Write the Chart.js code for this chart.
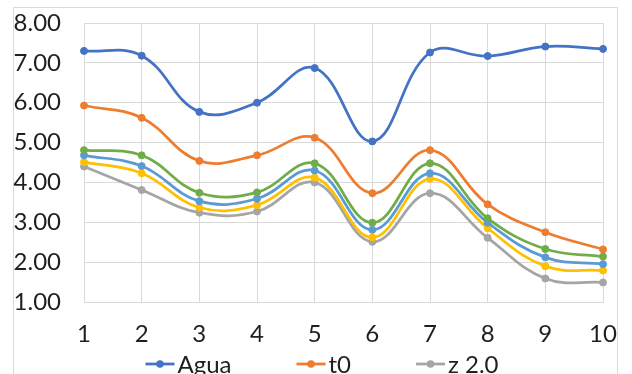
<!DOCTYPE html>
<html>
<head>
<meta charset="utf-8">
<script src="https://cdn.jsdelivr.net/npm/chart.js@4"></script>
<style>
  html, body { margin: 0; padding: 0; background: #fff; overflow: hidden; }
  #wrap { position: relative; width: 632px; height: 374px; }
</style>
</head>
<body>
<div id="wrap"><canvas id="chart"></canvas></div>
<script>
// Categories (x axis)
const categories = ['1', '2', '3', '4', '5', '6', '7', '8', '9', '10'];

// Series values
const agua   = [7.30, 7.18, 5.77, 6.00, 6.87, 5.03, 7.26, 7.17, 7.41, 7.35];
const t0     = [5.93, 5.62, 4.54, 4.68, 5.12, 3.73, 4.81, 3.45, 2.75, 2.32];
const z20    = [4.40, 3.81, 3.24, 3.27, 4.00, 2.51, 3.73, 2.61, 1.59, 1.49];
const serie4 = [4.51, 4.23, 3.37, 3.43, 4.12, 2.62, 4.09, 2.85, 1.90, 1.79];
const serie5 = [4.68, 4.41, 3.53, 3.59, 4.30, 2.81, 4.23, 2.99, 2.12, 1.95];
const serie6 = [4.81, 4.68, 3.74, 3.75, 4.48, 2.99, 4.48, 3.10, 2.33, 2.14];

// Series names
const seriesNames = ['Agua', 't0', 'z 2.0', 'Serie 4', 'Serie 5', 'Serie 6'];

// Y axis range
const yMin = 1;
const yMax = 8;
const yStep = 1;

const palette = ['#4472C4', '#ED7D31', '#A5A5A5', '#FFC000', '#5B9BD5', '#70AD47'];
const seriesValues = [agua, t0, z20, serie4, serie5, serie6];
const FONT = 'Lato, "Open Sans", "DejaVu Sans", sans-serif';
const TEXT = '#1f1f1f';
const GRID = '#D9D9D9';

const datasets = seriesValues.map((vals, i) => ({
  label: seriesNames[i],
  data: vals,
  borderColor: palette[i],
  backgroundColor: palette[i],
  pointBackgroundColor: palette[i],
  pointBorderColor: palette[i],
  pointRadius: 3.5,
  pointBorderWidth: 1,
  borderWidth: 2.75,
  tension: 0.4,
  fill: false,
  order: seriesValues.length - i
}));

// Outer frame around the chart
const framePlugin = {
  id: 'frame',
  beforeDraw(chart) {
    const ctx = chart.ctx;
    ctx.save();
    ctx.fillStyle = '#fff';
    ctx.fillRect(0, 0, chart.width, chart.height);
    ctx.strokeStyle = GRID;
    ctx.lineWidth = 1;
    ctx.beginPath();
    ctx.moveTo(13.5, chart.height + 2);
    ctx.lineTo(13.5, 7.5);
    ctx.lineTo(617.5, 7.5);
    ctx.lineTo(617.5, chart.height + 2);
    ctx.stroke();
    ctx.restore();
  }
};

// Bottom legend: line-with-marker swatches, first row of items
const legendPlugin = {
  id: 'bottomLegend',
  afterDraw(chart) {
    const ctx = chart.ctx;
    const items = chart.data.datasets.slice(0, 3);
    ctx.save();
    ctx.font = '24px ' + FONT;
    ctx.textBaseline = 'alphabetic';
    const sw = 29, gapText = 3, gapItem = 65;
    const widths = items.map(d => sw + gapText + ctx.measureText(d.label).width);
    const total = widths.reduce((a, b) => a + b, 0) + gapItem * (items.length - 1);
    let x = 322 - total / 2;
    const yMid = 364;
    items.forEach((d, i) => {
      ctx.strokeStyle = d.borderColor;
      ctx.lineWidth = 2.75;
      ctx.beginPath();
      ctx.moveTo(x, yMid);
      ctx.lineTo(x + sw, yMid);
      ctx.stroke();
      ctx.fillStyle = d.borderColor;
      ctx.beginPath();
      ctx.arc(x + sw / 2, yMid, 3.75, 0, Math.PI * 2);
      ctx.fill();
      ctx.fillStyle = TEXT;
      ctx.fillText(d.label, x + sw + gapText, 373);
      x += widths[i] + gapItem;
    });
    ctx.restore();
  }
};

new Chart(document.getElementById('chart'), {
  type: 'line',
  data: { labels: categories, datasets },
  options: {
    responsive: true,
    maintainAspectRatio: false,
    animation: false,
    layout: { padding: { left: 13, right: 29, top: 23, bottom: 0 } },
    plugins: {
      legend: { display: false },
      tooltip: { enabled: false }
    },
    scales: {
      x: {
        offset: false,
        grid: { color: GRID, lineWidth: 1, drawTicks: false },
        border: { color: GRID, width: 1 },
        ticks: { color: TEXT, font: { family: FONT, size: 24 }, padding: 18, maxRotation: 0, autoSkip: false },
        afterFit(scale) {
          scale.height = 72;
          scale.paddingLeft = 0;
          scale.paddingRight = 0;
        }
      },
      y: {
        min: yMin,
        max: yMax,
        grid: { color: GRID, lineWidth: 1, drawTicks: false },
        border: { color: GRID, width: 1 },
        ticks: {
          stepSize: yStep,
          color: TEXT,
          font: { family: FONT, size: 24 },
          padding: 23,
          callback: v => Number(v).toFixed(2)
        },
        afterFit(scale) {
          scale.width = 71;
          scale.paddingTop = 0;
          scale.paddingBottom = 0;
        }
      }
    }
  },
  plugins: [framePlugin, legendPlugin]
});
</script>
</body>
</html>
